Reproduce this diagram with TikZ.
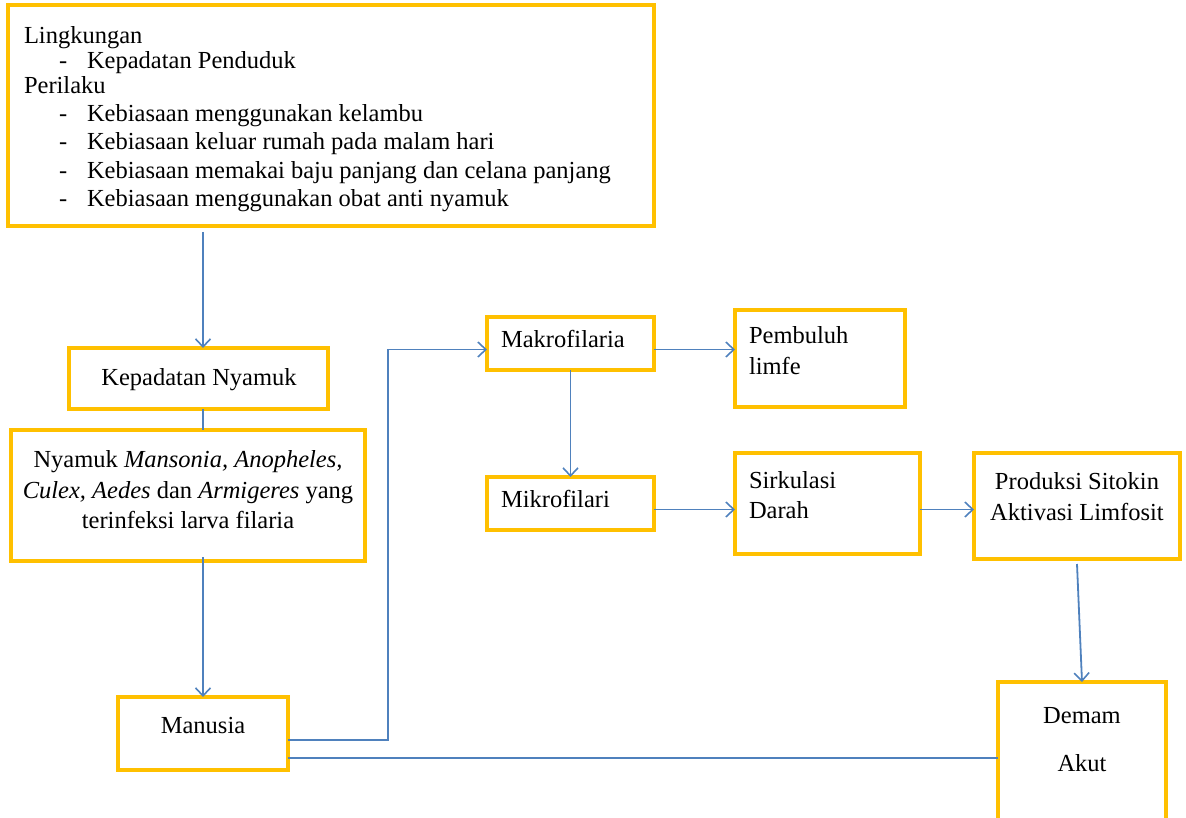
\documentclass[tikz,border=0pt]{standalone}
\usepackage{fontspec}
\setmainfont{Liberation Serif}
\usetikzlibrary{arrows.meta,calc}
\definecolor{gold}{HTML}{FFC000}
\definecolor{conn}{HTML}{4F81BD}
\begin{document}
\begin{tikzpicture}[x=1pt,y=-1pt,
  box/.style={draw=gold,line width=3.3pt,rectangle,inner sep=0pt,outer sep=0pt,anchor=north west},
  txt/.style={inner sep=0pt,outer sep=0pt,font=\fontsize{24.5}{28}\selectfont},
  conline/.style={draw=conn,line width=1.8pt},
  arr/.style={conline,-{Straight Barb[length=8pt,width=15pt,line width=1.6pt]}}]
\useasboundingbox (0,0) rectangle (1186,818);
% boxes
\node[box,minimum width=646pt,minimum height=221pt] (top) at (8,5) {};
\node[box,minimum width=259pt,minimum height=61pt] (kn) at (69,348) {};
\node[box,minimum width=354pt,minimum height=131pt] (nya) at (11,430) {};
\node[box,minimum width=170pt,minimum height=73pt] (man) at (118,697) {};
\node[box,minimum width=167pt,minimum height=53pt] (mak) at (487,317) {};
\node[box,minimum width=170pt,minimum height=97pt] (pem) at (735,310) {};
\node[box,minimum width=167pt,minimum height=53pt] (mik) at (487,477) {};
\node[box,minimum width=185pt,minimum height=101pt] (sir) at (735,453) {};
\node[box,minimum width=206pt,minimum height=106pt] (pro) at (974,453) {};
\node[box,minimum width=168pt,minimum height=150pt] (dem) at (998,682) {};
% top box text
\node[txt,anchor=base west] (t1) at (24,44) {Lingkungan};
\node[txt,anchor=base west] (d1) at (59,69) {-};
\node[txt,anchor=base west] (t2) at (87,69) {Kepadatan Penduduk};
\node[txt,anchor=base west] (t3) at (24,94) {Perilaku};
\node[txt,anchor=base west] (d2) at (59,122) {-};
\node[txt,anchor=base west] (t4) at (87,122) {Kebiasaan menggunakan kelambu};
\node[txt,anchor=base west] (d3) at (59,150) {-};
\node[txt,anchor=base west] (t5) at (87,150) {Kebiasaan keluar rumah pada malam hari};
\node[txt,anchor=base west] (d4) at (59,179) {-};
\node[txt,anchor=base west] (t6) at (87,179) {Kebiasaan memakai baju panjang dan celana panjang};
\node[txt,anchor=base west] (d5) at (59,207) {-};
\node[txt,anchor=base west] (t7) at (87,207) {Kebiasaan menggunakan obat anti nyamuk};
% other texts
\node[txt,anchor=base] (knt) at (199,385) {Kepadatan Nyamuk};
\node[txt,anchor=base] (ny1) at (188,467) {Nyamuk \textit{Mansonia, Anopheles,}};
\node[txt,anchor=base] (ny2) at (188,498) {\textit{Culex, Aedes} dan \textit{Armigeres} yang};
\node[txt,anchor=base] (ny3) at (188,528) {terinfeksi larva filaria};
\node[txt,anchor=base] (mant) at (203,733) {Manusia};
\node[txt,anchor=base west] (makt) at (501,348) {Makrofilaria};
\node[txt,anchor=base west] (pem1) at (749,343) {Pembuluh};
\node[txt,anchor=base west] (pem2) at (749,374) {limfe};
\node[txt,anchor=base west] (mikt) at (501,507) {Mikrofilari};
\node[txt,anchor=base west] (sir1) at (749,488) {Sirkulasi};
\node[txt,anchor=base west] (sir2) at (749,518) {Darah};
\node[txt,anchor=base] (pro1) at (1077,489) {Produksi Sitokin};
\node[txt,anchor=base] (pro2) at (1077,520) {Aktivasi Limfosit};
\node[txt,anchor=base] (dem1) at (1082,723) {Demam};
\node[txt,anchor=base] (dem2) at (1082,771) {Akut};
% connectors
\draw[arr] ($(man.north |- top.south)+(0,6)$) -- (man.north |- kn.north);
\draw[conline] (man.north |- kn.south) -- (man.north |- nya.north);
\draw[arr] ($(man.north |- nya.south)+(0,-4)$) -- (man.north);
\coordinate (m1) at ($(man.north east)!0.59!(man.south east)$);
\coordinate (m2) at ($(man.north east)!0.84!(man.south east)$);
\draw[arr] (m1) -- ++(100,0) |- ($(mak.west)+(0,6)$);
\draw[conline] (m2) -- (dem.west |- m2);
\draw[arr] ($(mak.east)+(0,6)$) -- ($(mak.east -| pem.west)+(0,6)$);
\draw[arr] (mak.south) -- (mak.south |- mik.north);
\draw[arr] ($(mik.east)+(0,6)$) -- ($(mik.east -| sir.west)+(0,6)$);
\draw[arr] ($(sir.east)+(0,6)$) -- ($(sir.east -| pro.west)+(0,6)$);
\draw[arr] ($(pro.south)+(0,5)$) -- (dem.north);
\end{tikzpicture}
\end{document}
